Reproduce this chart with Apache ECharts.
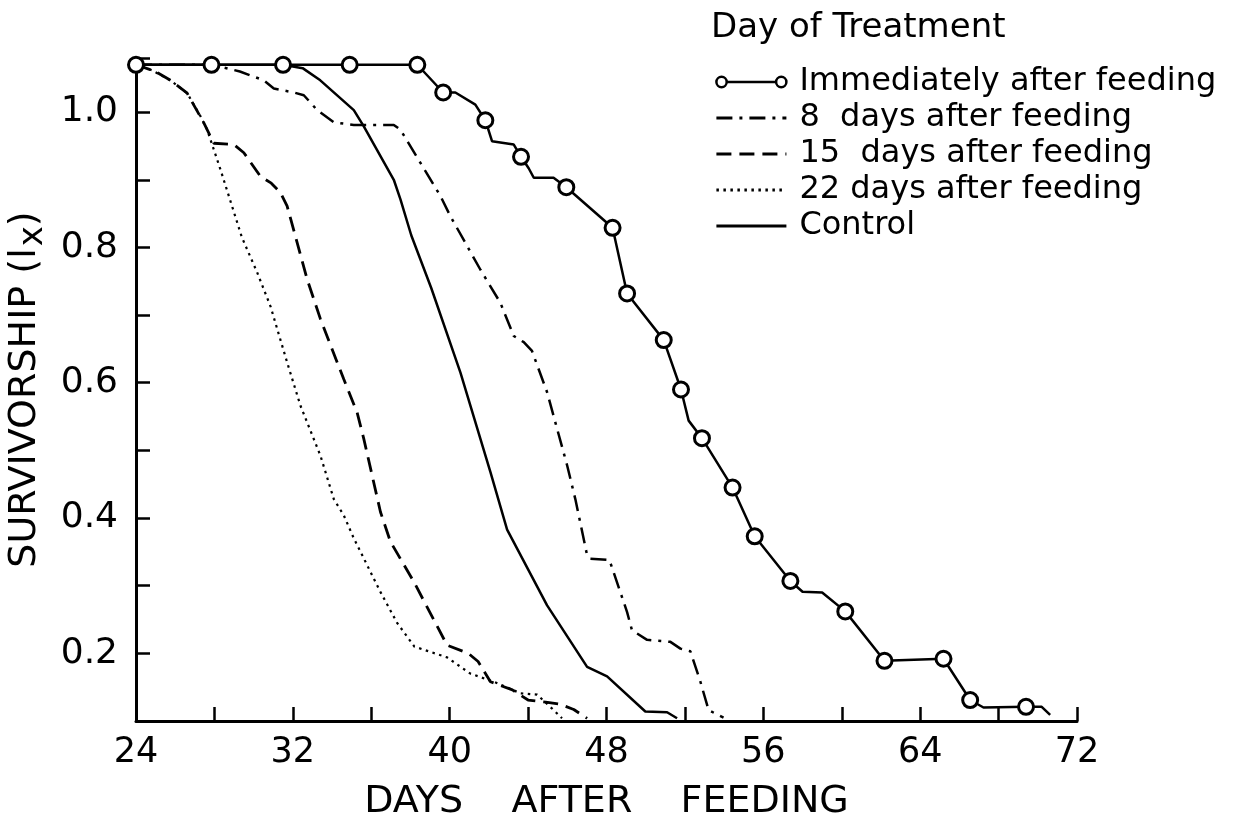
<!DOCTYPE html>
<html>
<head>
<meta charset="utf-8">
<script src="https://cdn.jsdelivr.net/npm/echarts@6/dist/echarts.min.js"></script>
<style>
  html, body { margin: 0; padding: 0; background: #fff; }
  #chart { width: 1248px; height: 820px; }
</style>
</head>
<body>
<div id="chart"></div>
<script>
// tick labels
const xTicks = [24, 32, 40, 48, 56, 64, 72];
const yTicks = [0.2, 0.4, 0.6, 0.8, 1.0];

// immediately after feeding (1 = circle marker drawn)
const immedDays = [24, 27.85, 31.5, 34.9, 38.35, 39.67, 40.29, 41.31, 41.82, 42.16, 43.27, 43.64, 44.03, 44.29, 45.3, 45.95, 48.31, 49.05, 50.92, 51.8, 52.19, 52.87, 54.43, 55.56, 57.38, 58.0, 59.0, 60.18, 62.18, 65.19, 66.55, 67.23, 69.4, 70.2, 70.63];
const immedVals = [1.07, 1.07, 1.07, 1.07, 1.07, 1.029, 1.029, 1.011, 0.988, 0.957, 0.952, 0.934, 0.917, 0.903, 0.903, 0.889, 0.829, 0.732, 0.663, 0.59, 0.544, 0.518, 0.445, 0.373, 0.307, 0.291, 0.29, 0.262, 0.189, 0.192, 0.131, 0.12, 0.121, 0.121, 0.109];
const immedMarks = [1, 1, 1, 1, 1, 1, 0, 0, 1, 0, 0, 1, 0, 0, 0, 1, 1, 1, 1, 1, 0, 1, 1, 1, 1, 0, 0, 1, 1, 1, 1, 0, 1, 0, 0];

// 8 days after feeding
const d8Days = [24, 27.9, 29.3, 30.52, 31.03, 32.05, 32.56, 33.24, 34.09, 35.11, 37.15, 37.49, 39.53, 40.04, 41.57, 42.59, 43.27, 43.78, 44.2, 44.97, 45.99, 46.41, 47.01, 47.18, 48.15, 49.05, 49.3, 50.07, 51.26, 51.77, 52.28, 52.79, 53.21, 53.97];
const d8Vals = [1.07, 1.07, 1.06, 1.047, 1.035, 1.029, 1.025, 1.003, 0.985, 0.981, 0.981, 0.974, 0.876, 0.846, 0.767, 0.718, 0.669, 0.66, 0.647, 0.586, 0.478, 0.428, 0.345, 0.34, 0.338, 0.261, 0.234, 0.22, 0.217, 0.207, 0.203, 0.158, 0.116, 0.105];

// 15 days after feeding
const d15Days = [24, 25.0, 25.76, 26.61, 27.46, 27.97, 29.0, 29.5, 30.35, 30.9, 31.37, 31.71, 32.73, 33.41, 34.6, 35.28, 35.62, 36.47, 36.98, 38.17, 39.87, 40.95, 41.45, 42.08, 43.2, 44.0, 44.9, 45.6, 46.33, 47.01];
const d15Vals = [1.07, 1.06, 1.047, 1.028, 0.984, 0.954, 0.952, 0.94, 0.905, 0.895, 0.881, 0.861, 0.753, 0.694, 0.605, 0.556, 0.517, 0.409, 0.365, 0.306, 0.212, 0.2, 0.188, 0.158, 0.146, 0.131, 0.128, 0.125, 0.117, 0.104];

// 22 days after feeding
const d22Days = [24, 24.8, 25.76, 26.61, 27.29, 27.63, 28.31, 29.4, 30.18, 30.86, 31.71, 32.39, 33.41, 34.09, 34.6, 35.11, 36.5, 37.32, 38.2, 39.87, 41.06, 42.25, 43.61, 44.46, 45.31, 45.73];
const d22Vals = [1.07, 1.062, 1.047, 1.028, 0.994, 0.974, 0.915, 0.815, 0.763, 0.713, 0.63, 0.566, 0.492, 0.428, 0.404, 0.37, 0.289, 0.245, 0.21, 0.194, 0.17, 0.158, 0.141, 0.139, 0.116, 0.104];

// control
const ctrlDays = [24, 31.5, 32.5, 33.4, 35.11, 35.62, 37.15, 37.49, 38.04, 39.06, 40.55, 42.08, 42.93, 44.97, 47.01, 48.03, 49.98, 51.09, 51.6];
const ctrlVals = [1.07, 1.07, 1.065, 1.047, 1.003, 0.979, 0.9, 0.871, 0.818, 0.74, 0.615, 0.468, 0.383, 0.271, 0.18, 0.166, 0.114, 0.113, 0.104];

const names = ["Immediately after feeding", "8  days after feeding", "15  days after feeding", "22 days after feeding", "Control"];

const FONT = "DejaVu Sans";
const pairs = (xs, ys) => xs.map((x, i) => [x, ys[i]]);

const chart = echarts.init(document.getElementById("chart"), null, { renderer: "canvas" });

function lineSeries(name, data, type, width) {
  return {
    name: name,
    type: "line",
    data: data,
    symbol: "none",
    clip: false,
    lineStyle: { color: "#000", width: width, type: type },
    itemStyle: { color: "#000" },
  };
}

const immedData = immedDays.map((d, i) => ({
  value: [d, immedVals[i]],
  symbol: immedMarks[i] ? "circle" : "none",
}));

// legend icon "o——o" for the marked series, plain line for the others
const circleLineIcon = "path://M2,7a5,5 0 1,0 10,0a5,5 0 1,0 -10,0M12,7L60,7M60,7a5,5 0 1,0 10,0a5,5 0 1,0 -10,0";
const legendData = names.map((n, i) =>
  i === 0
    ? { name: n, icon: circleLineIcon, itemStyle: { color: "#fff", borderColor: "#000", borderWidth: 2.5 } }
    : { name: n, itemStyle: { opacity: 0 } }
);

const option = {
  backgroundColor: "#fff",
  animation: false,
  title: {
    text: "Day of Treatment",
    left: 706,
    top: 6,
    textStyle: { fontFamily: FONT, fontSize: 34, fontWeight: "normal", color: "#000" },
  },
  legend: {
    orient: "vertical",
    left: 710,
    top: 59,
    itemWidth: 70,
    itemHeight: 12,
    itemGap: 0,
    lineStyle: { width: 2.8 },
    textStyle: { fontFamily: FONT, fontSize: 32, color: "#000", lineHeight: 36, padding: [0, 0, 0, 8] },
    data: legendData,
  },
  grid: { left: 136, right: 171, top: 58, bottom: 99, outerBoundsMode: "none" },
  xAxis: {
    type: "value",
    min: 24,
    max: 72,
    interval: 4,
    name: "DAYS    AFTER    FEEDING",
    nameLocation: "middle",
    nameGap: 62,
    nameTextStyle: { fontFamily: FONT, fontSize: 38, color: "#000" },
    axisLine: { lineStyle: { color: "#000", width: 3 } },
    axisTick: { inside: true, length: 14, lineStyle: { color: "#000", width: 2.5 } },
    axisLabel: {
      fontFamily: FONT,
      fontSize: 35,
      color: "#000",
      margin: 14,
      formatter: (v) => (xTicks.includes(v) ? String(v) : ""),
    },
    splitLine: { show: false },
  },
  yAxis: {
    type: "value",
    min: 0.1,
    max: 1.08,
    interval: 0.1,
    name: "SURVIVORSHIP ({lx|l}{sub|x})",
    nameLocation: "middle",
    nameGap: 84,
    nameTextStyle: {
      fontFamily: FONT,
      fontSize: 38,
      color: "#000",
      rich: {
        lx: { fontFamily: FONT, fontSize: 38, color: "#000" },
        sub: { fontFamily: FONT, fontSize: 34, color: "#000", padding: [16, 0, 0, 2] },
      },
    },
    axisLine: { lineStyle: { color: "#000", width: 3 } },
    axisTick: { inside: true, length: 14, lineStyle: { color: "#000", width: 2.5 } },
    axisLabel: {
      fontFamily: FONT,
      fontSize: 36,
      color: "#000",
      margin: 18,
      formatter: (v) => {
        const r = Math.round(v * 10) / 10;
        return yTicks.some((t) => Math.abs(t - r) < 1e-6) && Math.abs(v - r) < 1e-6 ? r.toFixed(1) : "";
      },
    },
    splitLine: { show: false },
  },
  series: [
    {
      name: names[0],
      type: "line",
      data: immedData,
      symbol: "circle",
      symbolSize: 15,
      clip: false,
      lineStyle: { color: "#000", width: 2.5 },
      itemStyle: { color: "#fff", borderColor: "#000", borderWidth: 3 },
    },
    lineSeries(names[1], pairs(d8Days, d8Vals), [16, 7, 3, 7], 2.5),
    lineSeries(names[2], pairs(d15Days, d15Vals), [15, 8], 2.8),
    lineSeries(names[3], pairs(d22Days, d22Vals), [2.5, 4.5], 2.2),
    lineSeries(names[4], pairs(ctrlDays, ctrlVals), "solid", 2.5),
  ],
};

chart.setOption(option);
</script>
</body>
</html>
